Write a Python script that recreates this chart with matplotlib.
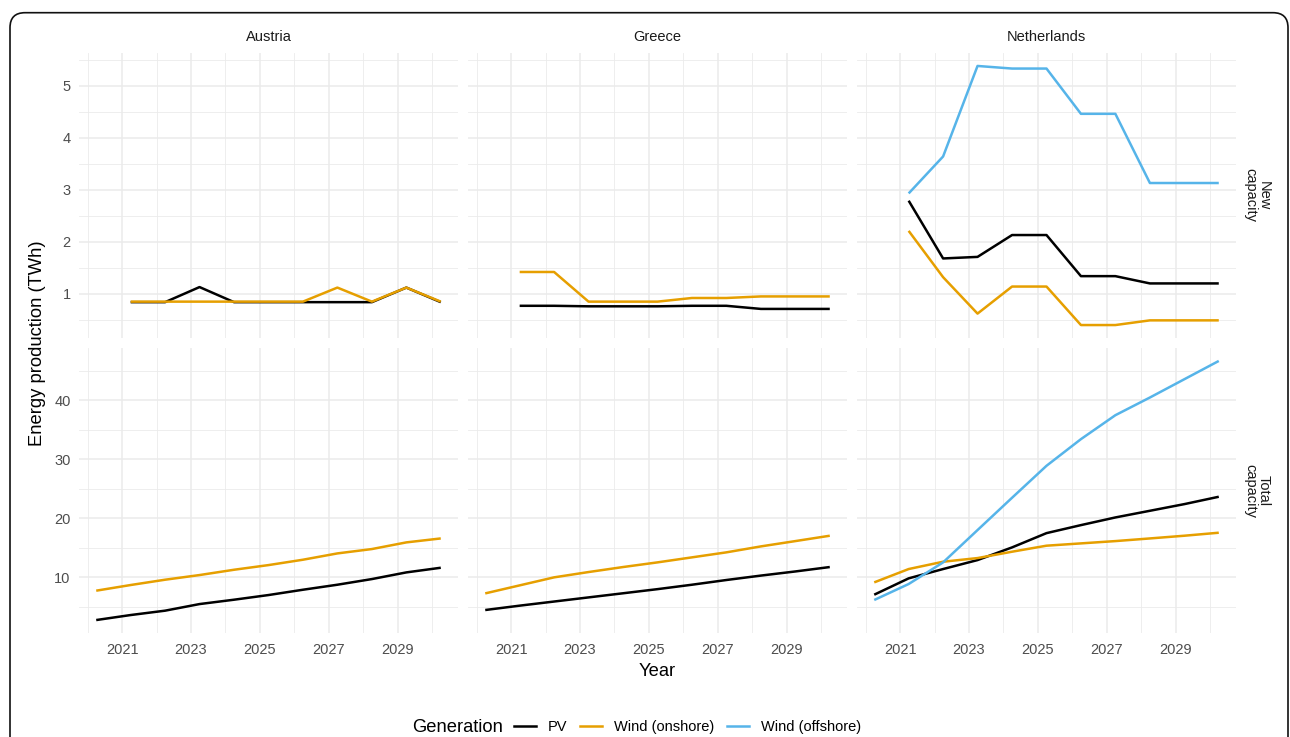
import numpy as np
import pandas as pd
import matplotlib
matplotlib.use("Agg")
import matplotlib.pyplot as plt
import matplotlib.dates as mdates
from matplotlib.patches import FancyBboxPatch
from matplotlib.lines import Line2D

plt.rcParams["font.family"] = ["Liberation Sans", "DejaVu Sans"]

# yearly values are stamped at the start of Q2
years_new = list(range(2021, 2031))
years_total = list(range(2020, 2031))
year_breaks = [2021, 2023, 2025, 2027, 2029]
year_minor = [2020, 2022, 2024, 2026, 2028, 2030]

countries = ["Austria", "Greece", "Netherlands"]
facet_rows = ["New\ncapacity", "Total\ncapacity"]
sources = ["PV", "Wind (onshore)", "Wind (offshore)"]
colors = {"PV": "#000000", "Wind (onshore)": "#E69F00", "Wind (offshore)": "#56B4E9"}

# new capacity (TWh), 2021-2030
austria_new_pv = [0.84, 0.84, 1.13, 0.84, 0.84, 0.84, 0.84, 0.84, 1.12, 0.84]
austria_new_onshore = [0.85, 0.85, 0.85, 0.85, 0.85, 0.85, 1.12, 0.85, 1.12, 0.85]
greece_new_pv = [0.77, 0.77, 0.76, 0.76, 0.76, 0.77, 0.77, 0.71, 0.71, 0.71]
greece_new_onshore = [1.42, 1.42, 0.85, 0.85, 0.85, 0.92, 0.92, 0.95, 0.95, 0.95]
nl_new_pv = [2.79, 1.68, 1.71, 2.13, 2.13, 1.34, 1.34, 1.20, 1.20, 1.20]
nl_new_onshore = [2.21, 1.32, 0.62, 1.14, 1.14, 0.40, 0.40, 0.49, 0.49, 0.49]
nl_new_offshore = [2.93, 3.64, 5.38, 5.33, 5.33, 4.46, 4.46, 3.13, 3.13, 3.13]

# total capacity (TWh), 2020-2030
austria_total_pv = [2.76, 3.61, 4.35, 5.47, 6.21, 7.0, 7.9, 8.75, 9.71, 10.84, 11.63]
austria_total_onshore = [7.74, 8.70, 9.60, 10.39, 11.29, 12.08, 12.99, 14.06, 14.80, 15.93, 16.6]
greece_total_pv = [4.46, 5.2, 5.9, 6.6, 7.3, 8.0, 8.75, 9.55, 10.3, 11.0, 11.75]
greece_total_onshore = [7.28, 8.64, 10.0, 10.9, 11.75, 12.54, 13.39, 14.24, 15.25, 16.15, 17.06]
nl_total_pv = [7.06, 9.83, 11.41, 12.93, 15.08, 17.5, 18.86, 20.16, 21.29, 22.42, 23.67]
nl_total_onshore = [9.15, 11.41, 12.65, 13.27, 14.35, 15.37, 15.76, 16.15, 16.6, 17.06, 17.57]
nl_total_offshore = [6.16, 8.87, 12.54, 18.02, 23.5, 28.92, 33.44, 37.5, 40.5, 43.6, 46.7]

series = {
    (0, "Austria"): {"PV": austria_new_pv, "Wind (onshore)": austria_new_onshore},
    (0, "Greece"): {"PV": greece_new_pv, "Wind (onshore)": greece_new_onshore},
    (0, "Netherlands"): {"PV": nl_new_pv, "Wind (onshore)": nl_new_onshore,
                         "Wind (offshore)": nl_new_offshore},
    (1, "Austria"): {"PV": austria_total_pv, "Wind (onshore)": austria_total_onshore},
    (1, "Greece"): {"PV": greece_total_pv, "Wind (onshore)": greece_total_onshore},
    (1, "Netherlands"): {"PV": nl_total_pv, "Wind (onshore)": nl_total_onshore,
                         "Wind (offshore)": nl_total_offshore},
}
row_years = [years_new, years_total]
row_major = [[1, 2, 3, 4, 5], [10, 20, 30, 40]]
row_minor = [[0.5, 1.5, 2.5, 3.5, 4.5, 5.5], [5, 15, 25, 35, 45]]


def to_dates(years, stamp="04-01"):
    return mdates.date2num(pd.to_datetime([f"{y}-{stamp}" for y in years]))


def expand(lo, hi, frac=0.05):
    pad = (hi - lo) * frac
    return lo - pad, hi + pad


W, H = 1290, 737
fig = plt.figure(figsize=(W / 100, H / 100), dpi=100)

# rounded frame, open at the bottom edge
frame = FancyBboxPatch((0.1, -0.4), 12.78, 7.643,
                       boxstyle="round,pad=0,rounding_size=0.15",
                       transform=fig.dpi_scale_trans, fill=False,
                       edgecolor="#111111", linewidth=1.2)
fig.patches.append(frame)

col_left = [79, 468, 857]
panel_w = 379
row_top = [53, 348]
panel_h = 285

all_x = to_dates(years_total)
xlim = expand(all_x.min(), all_x.max())
row_ylim = []
for r in range(2):
    vals = np.concatenate([np.array(v) for (rr, _), d in series.items() if rr == r
                           for v in d.values()])
    row_ylim.append(expand(vals.min(), vals.max()))

grid_col = "#EBEBEB"
for r in range(2):
    for c, country in enumerate(countries):
        ax = fig.add_axes([col_left[c] / W, 1 - (row_top[r] + panel_h) / H,
                           panel_w / W, panel_h / H])
        ax.set_facecolor("white")
        for s in ax.spines.values():
            s.set_visible(False)
        x = to_dates(row_years[r])
        for src in sources:
            if src in series[(r, country)]:
                ax.plot(x, series[(r, country)][src], color=colors[src], lw=1.8,
                        solid_joinstyle="round", solid_capstyle="butt", zorder=3)
        ax.set_xlim(xlim)
        ax.set_ylim(row_ylim[r])
        ax.set_xticks(to_dates(year_breaks, "01-01"))
        ax.set_xticks(to_dates(year_minor, "01-01"), minor=True)
        ax.set_yticks(row_major[r])
        ax.set_yticks(row_minor[r], minor=True)
        ax.grid(which="major", color=grid_col, lw=1.1, zorder=0)
        ax.grid(which="minor", color=grid_col, lw=0.6, zorder=0)
        ax.set_axisbelow(True)
        ax.tick_params(which="both", length=0, labelsize=10.5, labelcolor="#4D4D4D")
        ax.tick_params(axis="y", pad=6)
        ax.tick_params(axis="x", pad=7)
        if r == 1:
            ax.set_xticklabels([str(y) for y in year_breaks])
        else:
            ax.set_xticklabels([])
        if c == 0:
            ax.set_yticklabels([str(v) for v in row_major[r]])
        else:
            ax.set_yticklabels([])
        if r == 0:
            fig.text((col_left[c] + panel_w / 2) / W, 1 - 37 / H, country,
                     ha="center", va="center", fontsize=10.5, color="#1A1A1A")

for r, label in enumerate(facet_rows):
    fig.text(1257 / W, 1 - (row_top[r] + panel_h / 2) / H, label, rotation=-90,
             ha="center", va="center", fontsize=10.5, color="#1A1A1A",
             multialignment="center", linespacing=1.0)

fig.text(38 / W, 1 - 343 / H, "Energy production (TWh)", rotation=90,
         ha="center", va="center", fontsize=13.2)
fig.text(657 / W, 1 - 671 / H, "Year", ha="center", va="center", fontsize=13.2)

# legend along the bottom
fig.text(412 / W, 1 - 727 / H, "Generation", ha="left", va="center", fontsize=13.2)
handles = [Line2D([], [], color=colors[s], lw=1.8) for s in sources]
fig.legend(handles, sources, loc="center left", bbox_to_anchor=(514 / W, 1 - 727 / H),
           ncol=3, frameon=False, fontsize=10.5, handlelength=1.5, handletextpad=0.8,
           columnspacing=0.9, borderpad=0, borderaxespad=0)

fig.savefig("out.png", dpi=100)
